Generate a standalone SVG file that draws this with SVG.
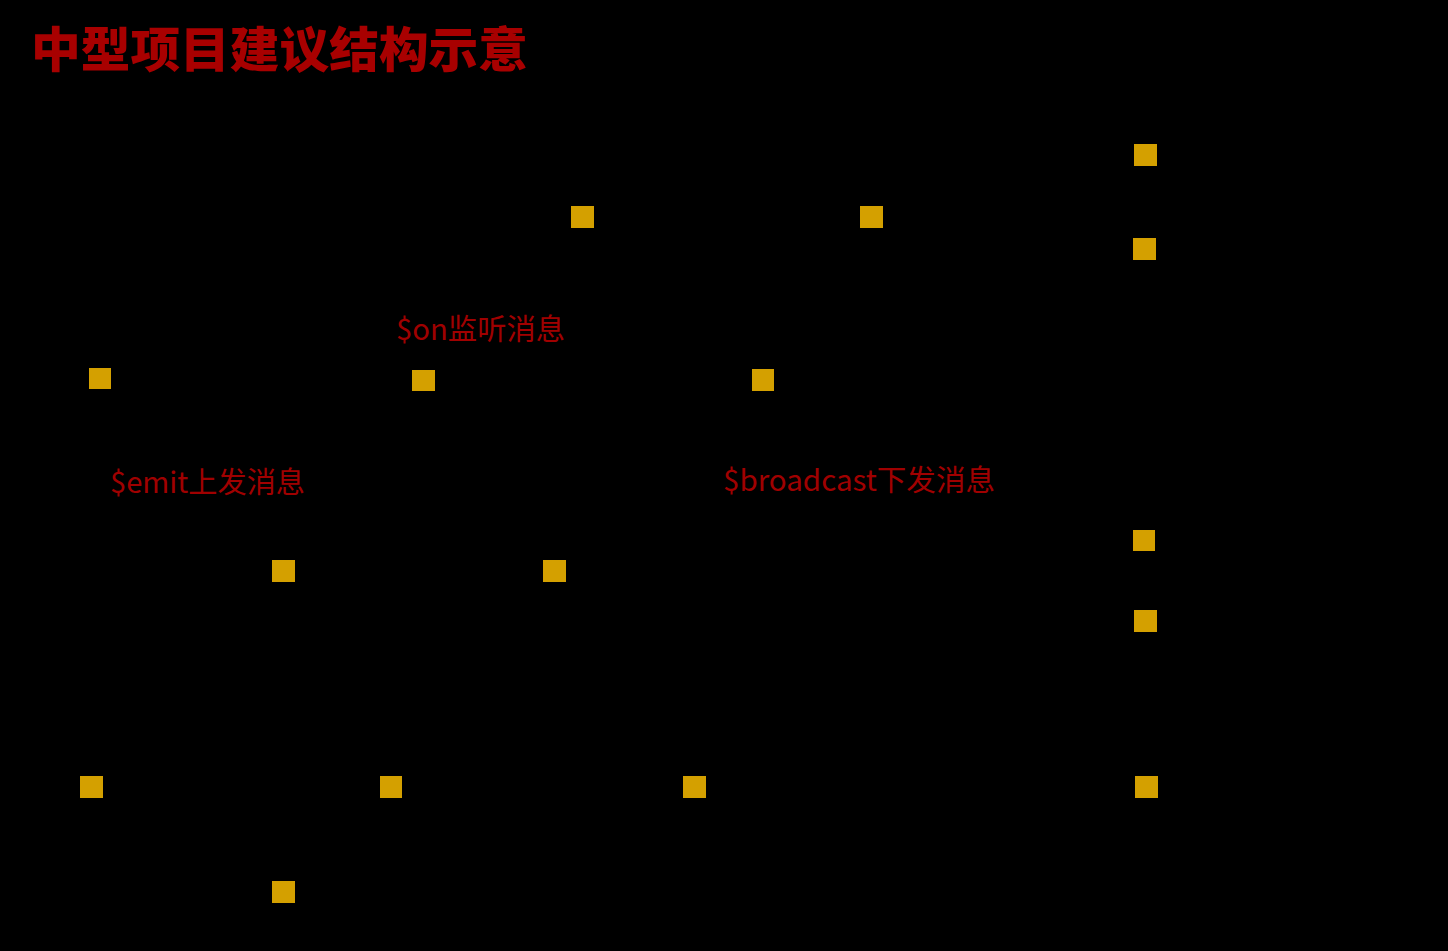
<svg xmlns="http://www.w3.org/2000/svg" width="1448" height="951" viewBox="0 0 1448 951">
<style>
.bg{fill:#000}
.sq{fill:#D4A000}
.title{font-family:"Noto Sans CJK SC","Microsoft YaHei",sans-serif;font-weight:900;font-size:48px;fill:#A80000}
.lbl{font-family:"Noto Sans CJK SC","Microsoft YaHei",sans-serif;font-size:29px;fill:#A00000}
</style>
<rect class="bg" x="0" y="0" width="1448" height="951"/>
<text class="title" x="31" y="67" textLength="497" lengthAdjust="spacingAndGlyphs">中型项目建议结构示意</text>
<g id="connectors"></g>
<g id="n1"><rect class="sq" x="1134" y="144" width="23" height="22"/></g>
<g id="n2"><rect class="sq" x="571" y="206" width="23" height="22"/></g>
<g id="n3"><rect class="sq" x="860" y="206" width="23" height="22"/></g>
<g id="n4"><rect class="sq" x="1133" y="238" width="23" height="22"/></g>
<g id="n5"><rect class="sq" x="89" y="368" width="22" height="21"/></g>
<g id="n6"><rect class="sq" x="412" y="370" width="23" height="21"/></g>
<g id="n7"><rect class="sq" x="752" y="369" width="22" height="22"/></g>
<g id="n8"><rect class="sq" x="1133" y="530" width="22" height="21"/></g>
<g id="n9"><rect class="sq" x="272" y="560" width="23" height="22"/></g>
<g id="n10"><rect class="sq" x="543" y="560" width="23" height="22"/></g>
<g id="n11"><rect class="sq" x="1134" y="610" width="23" height="22"/></g>
<g id="n12"><rect class="sq" x="80" y="776" width="23" height="22"/></g>
<g id="n13"><rect class="sq" x="380" y="776" width="22" height="22"/></g>
<g id="n14"><rect class="sq" x="683" y="776" width="23" height="22"/></g>
<g id="n15"><rect class="sq" x="1135" y="776" width="23" height="22"/></g>
<g id="n16"><rect class="sq" x="272" y="881" width="23" height="22"/></g>
<g id="lbl-on"><text class="lbl" x="396" y="340" textLength="169" lengthAdjust="spacingAndGlyphs">$on监听消息</text></g>
<g id="lbl-emit"><text class="lbl" x="110" y="493" textLength="195" lengthAdjust="spacingAndGlyphs">$emit上发消息</text></g>
<g id="lbl-broadcast"><text class="lbl" x="723" y="491" textLength="272" lengthAdjust="spacingAndGlyphs">$broadcast下发消息</text></g>
</svg>
